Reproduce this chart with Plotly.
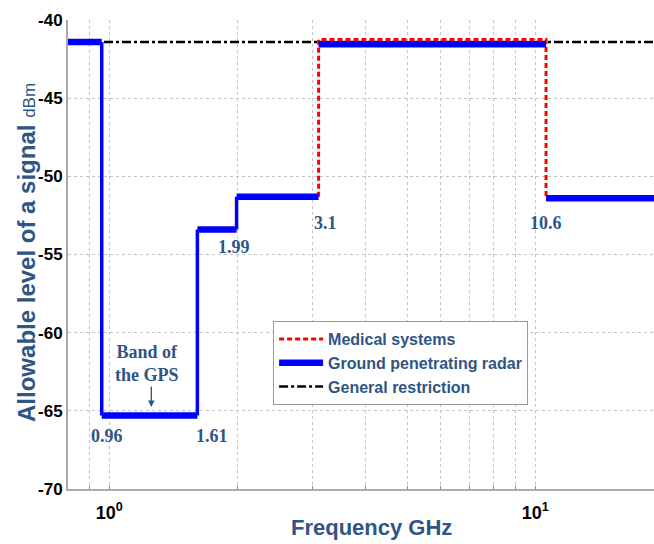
import math
import plotly.graph_objects as go

# Frequency band edges (GHz) and the allowed level in each band (dBm)
band_edges = [0.8, 0.96, 1.61, 1.99, 3.1, 10.6, 19.0]
gpr_levels = [-41.4, -65.3, -53.4, -51.3, -41.55, -51.4]
gpr_risers = [True, True, True, False, False]  # vertical steps drawn at inner edges

medical_freq = [3.1, 3.1, 10.6, 10.6]
medical_level = [-51.3, -41.25, -41.25, -51.4]

general_freq = [0.8, 19.0]
general_level = [-41.4, -41.4]

edge_labels = ["0.96", "1.61", "1.99", "3.1", "10.6"]
edge_label_values = [0.96, 1.61, 1.99, 3.1, 10.6]
edge_label_levels = [-66.6, -66.6, -54.5, -53.0, -53.0]
edge_label_shift = [5, 15, -3, 7, 0]

y_ticks = [-70, -65, -60, -55, -50, -45, -40]
x_major = [1, 10]
x_major_text = ["10<sup>0</sup>", "10<sup>1</sup>"]
x_minor = [0.9, 2, 3, 4, 5, 6, 7, 8, 9]

TEXT_BLUE = "#2F5585"
SANS = "Liberation Sans, Arial, sans-serif"
SERIF = "Liberation Serif, Times New Roman, serif"
GRID = "#C4C4C4"

# Ground penetrating radar: thick horizontal bands, thinner risers
h_x, h_y = [], []
for i, lvl in enumerate(gpr_levels):
    h_x += [band_edges[i], band_edges[i + 1], None]
    h_y += [lvl, lvl, None]
v_x, v_y = [], []
for j, has in enumerate(gpr_risers):
    if has:
        e = band_edges[j + 1]
        v_x += [e, e, None]
        v_y += [gpr_levels[j], gpr_levels[j + 1], None]

fig = go.Figure()
fig.add_trace(go.Scatter(
    x=general_freq, y=general_level, mode="lines",
    name="General restriction", legendrank=3,
    line=dict(color="black", width=2.5, dash="dashdot"),
))
fig.add_trace(go.Scatter(
    x=medical_freq, y=medical_level, mode="lines",
    name="Medical systems", legendrank=1,
    line=dict(color="#FF0000", width=3, dash="5px,3px"),
))
fig.add_trace(go.Scatter(
    x=v_x, y=v_y, mode="lines", showlegend=False, legendgroup="gpr",
    line=dict(color="#0000FF", width=3.5),
))
fig.add_trace(go.Scatter(
    x=h_x, y=h_y, mode="lines", legendgroup="gpr",
    name="Ground penetrating radar", legendrank=2,
    line=dict(color="#0000FF", width=6.5),
))

label_font = dict(family=SERIF, size=18, color=TEXT_BLUE)
for txt, val, lvl, sh in zip(edge_labels, edge_label_values, edge_label_levels, edge_label_shift):
    fig.add_annotation(x=math.log10(val), y=lvl, text=f"<b>{txt}</b>",
                       showarrow=False, xshift=sh, font=label_font)

fig.add_annotation(x=math.log10(1.228), y=-62.0, text="<b>Band of<br>the GPS</b>",
                   showarrow=False, font=label_font)
fig.add_annotation(x=math.log10(1.255), y=-64.75, ax=0, ay=-22, text="",
                   showarrow=True, arrowhead=2, arrowsize=1, arrowwidth=1.3,
                   arrowcolor=TEXT_BLUE)

fig.add_annotation(xref="paper", yref="paper", x=0.518, y=-0.083,
                   text="<b>Frequency GHz</b>", showarrow=False,
                   font=dict(family=SANS, size=22, color=TEXT_BLUE),
                   xanchor="center", yanchor="middle")
fig.add_annotation(xref="paper", yref="paper", x=-0.072, y=0.505, textangle=-90,
                   text="<b>Allowable level of a signal</b> <span style='font-size:17px'>dBm</span>",
                   showarrow=False, font=dict(family=SANS, size=24, color=TEXT_BLUE),
                   xanchor="center", yanchor="middle")

fig.update_xaxes(
    type="log", range=[math.log10(0.8), math.log10(19.0)],
    tickvals=x_major, ticktext=x_major_text,
    showgrid=True, gridcolor=GRID, griddash="dot", gridwidth=1,
    minor=dict(tickvals=x_minor, showgrid=True, gridcolor=GRID, griddash="dot",
               gridwidth=1, ticks="inside", ticklen=3, tickcolor="#888888"),
    showline=True, linecolor="#AAAAAA", linewidth=2,
    ticks="inside", ticklen=3, tickcolor="#888888",
    ticklabelstandoff=6,
    tickfont=dict(family=SANS, size=18, color="black", weight="bold"),
    zeroline=False,
)
fig.update_yaxes(
    range=[-70, -40], tickvals=y_ticks, ticktext=[str(v) for v in y_ticks],
    showgrid=True, gridcolor=GRID, griddash="dot", gridwidth=1,
    showline=True, linecolor="#AAAAAA", linewidth=2,
    ticks="", tickfont=dict(family=SANS, size=17, color="black", weight="bold"),
    zeroline=False,
)

fig.update_layout(
    width=654, height=544,
    margin=dict(l=68, r=0, t=20, b=55),
    paper_bgcolor="white", plot_bgcolor="white",
    legend=dict(
        x=0.35, y=0.358, xanchor="left", yanchor="top",
        bgcolor="white", bordercolor="#9A9A9A", borderwidth=1,
        font=dict(family=SANS, size=16, color=TEXT_BLUE, weight="bold"),
        tracegroupgap=0, itemwidth=44,
    ),
)

fig.write_html("out.html")
